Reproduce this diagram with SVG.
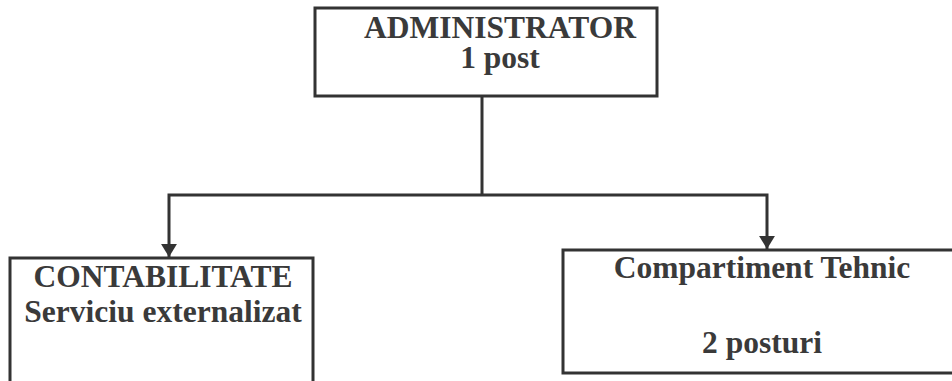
<svg xmlns="http://www.w3.org/2000/svg" width="952" height="381" viewBox="0 0 952 381">
<style>
.box{fill:#fff;stroke:#333;stroke-width:3}
.c{fill:none;stroke:#333;stroke-width:3}
.t{font-family:"Liberation Serif",serif;font-weight:bold;font-size:31.5px;fill:#3a3a3a;text-anchor:middle}
</style>
<defs>
<marker id="ah" viewBox="0 0 10 10" refX="10" refY="5" markerWidth="4.5" markerHeight="5.5" orient="auto" markerUnits="strokeWidth" preserveAspectRatio="none">
<path d="M0,0 L10,5 L0,10 z" fill="#333"/>
</marker>
</defs>
<rect width="952" height="381" fill="#fff"/>
<g id="connectors">
<path class="c" d="M482,96 V195"/>
<path class="c" d="M482,195 H169 V257" marker-end="url(#ah)"/>
<path class="c" d="M482,195 H767 V249" marker-end="url(#ah)"/>
</g>
<g id="administrator">
<rect class="box" x="315" y="8" width="342" height="88"/>
<text class="t" x="500" y="38">ADMINISTRATOR</text>
<text class="t" x="500" y="68">1 post</text>
</g>
<g id="contabilitate">
<rect class="box" x="10" y="258" width="303" height="140"/>
<text class="t" x="163" y="287">CONTABILITATE</text>
<text class="t" x="163" y="322">Serviciu externalizat</text>
</g>
<g id="tehnic">
<rect class="box" x="563" y="250" width="400" height="123"/>
<text class="t" x="762" y="278">Compartiment Tehnic</text>
<text class="t" x="762" y="353">2 posturi</text>
</g>
</svg>
